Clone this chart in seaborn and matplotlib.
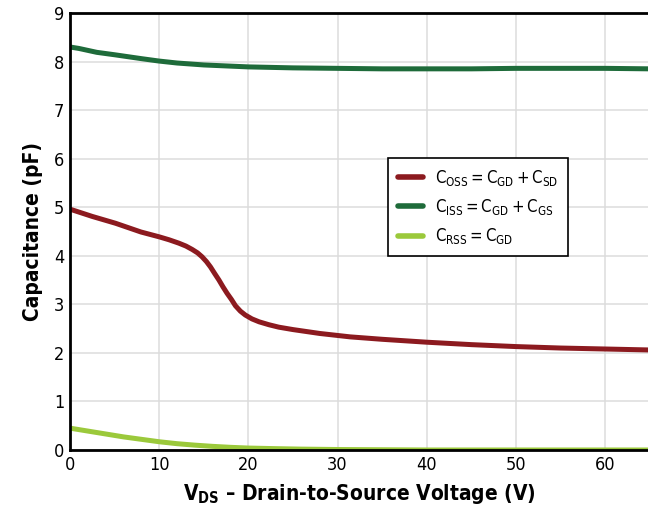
import numpy as np
import pandas as pd
import seaborn as sns
import matplotlib
matplotlib.use("Agg")
import matplotlib.pyplot as plt
from matplotlib import font_manager

# Data
vds_coss = [0, 2.5, 5.1, 7.95, 10, 11.1, 12.2, 13.0, 13.7, 14.3, 14.8, 15.3, 15.75, 16.2, 16.7, 17.15, 17.6, 18.1, 18.55, 19.1, 19.65, 20.4, 21.2, 22.3, 23.4, 25, 28, 31.4, 35, 40, 45, 50, 55, 60, 65]
coss = [4.96, 4.81, 4.67, 4.49, 4.39, 4.33, 4.26, 4.20, 4.13, 4.06, 3.98, 3.88, 3.77, 3.64, 3.50, 3.36, 3.23, 3.10, 2.97, 2.86, 2.78, 2.70, 2.64, 2.58, 2.53, 2.48, 2.40, 2.33, 2.28, 2.22, 2.17, 2.13, 2.10, 2.08, 2.06]
vds_ciss = [0, 1, 2, 3, 5, 8, 10, 12, 15, 20, 25, 30, 35, 40, 45, 50, 55, 60, 65]
ciss = [8.30, 8.27, 8.23, 8.19, 8.14, 8.06, 8.01, 7.97, 7.93, 7.89, 7.87, 7.86, 7.85, 7.85, 7.85, 7.86, 7.86, 7.86, 7.85]
vds_crss = [0, 2, 4, 6, 8, 10, 12, 14, 16, 18, 20, 23, 26, 30, 35, 40, 50, 60, 65]
crss = [0.45, 0.39, 0.33, 0.27, 0.22, 0.17, 0.13, 0.10, 0.075, 0.055, 0.04, 0.028, 0.018, 0.01, 0.005, 0.0, 0.0, 0.0, 0.0]

labels = [r"$\mathregular{C_{OSS} = C_{GD} + C_{SD}}$",
          r"$\mathregular{C_{ISS} = C_{GD} + C_{GS}}$",
          r"$\mathregular{C_{RSS} = C_{GD}}$"]
colors = ["#8C1A1F", "#1E6B3A", "#9BC93B"]

xticks = [0, 10, 20, 30, 40, 50, 60]
yticks = list(range(0, 10))

df = pd.concat([
    pd.DataFrame({"V": vds_coss, "C": coss, "s": labels[0]}),
    pd.DataFrame({"V": vds_ciss, "C": ciss, "s": labels[1]}),
    pd.DataFrame({"V": vds_crss, "C": crss, "s": labels[2]}),
])

sns.set_style("white")
names = {f.name for f in font_manager.fontManager.ttflist}
fam = 'Liberation Sans Narrow' if 'Liberation Sans Narrow' in names else 'DejaVu Sans'
plt.rcParams['font.family'] = [fam, 'DejaVu Sans']
plt.rcParams['font.stretch'] = 'condensed'
plt.rcParams['mathtext.fontset'] = 'custom'
plt.rcParams['mathtext.rm'] = fam + ':stretch=condensed'
plt.rcParams['mathtext.bf'] = fam + ':bold:stretch=condensed'
plt.rcParams['text.color'] = 'black'
plt.rcParams['xtick.color'] = 'black'
plt.rcParams['ytick.color'] = 'black'
plt.rcParams['axes.labelcolor'] = 'black'

fig = plt.figure(figsize=(6.48, 5.09), dpi=100)
ax = fig.add_axes([70/648, 1-450/509, 1-70/648, (450-13)/509])

sns.lineplot(data=df, x="V", y="C", hue="s", palette=colors, hue_order=labels,
             linewidth=3.6, ax=ax, legend=True)

ax.set_xlim(0, 64.8)
ax.set_ylim(0, 9)
ax.set_xticks(xticks)
ax.set_yticks(yticks)
ax.tick_params(axis='both', labelsize=13, length=0, pad=4)
ax.grid(True, color="#DCDCDC", linewidth=1.1)
ax.set_axisbelow(True)
for side in ["left", "bottom", "top"]:
    ax.spines[side].set_color("black")
    ax.spines[side].set_linewidth(2)
ax.spines["right"].set_visible(False)

ax.set_xlabel(r"$\mathbf{V_{DS}}$ – Drain-to-Source Voltage (V)", fontsize=15, fontweight='bold', labelpad=6)
ax.set_ylabel("Capacitance (pF)", fontsize=15, fontweight='bold', labelpad=8)

leg = ax.legend(loc="upper left", bbox_to_anchor=(0.551, 0.668), fontsize=12,
                frameon=True, fancybox=False, edgecolor="black", framealpha=1,
                handlelength=1.5, borderpad=0.6, labelspacing=0.55, handletextpad=0.7,
                borderaxespad=0)
leg.get_frame().set_linewidth(1.2)
for line in leg.get_lines():
    line.set_linewidth(4)

fig.savefig("out.png", dpi=100)
